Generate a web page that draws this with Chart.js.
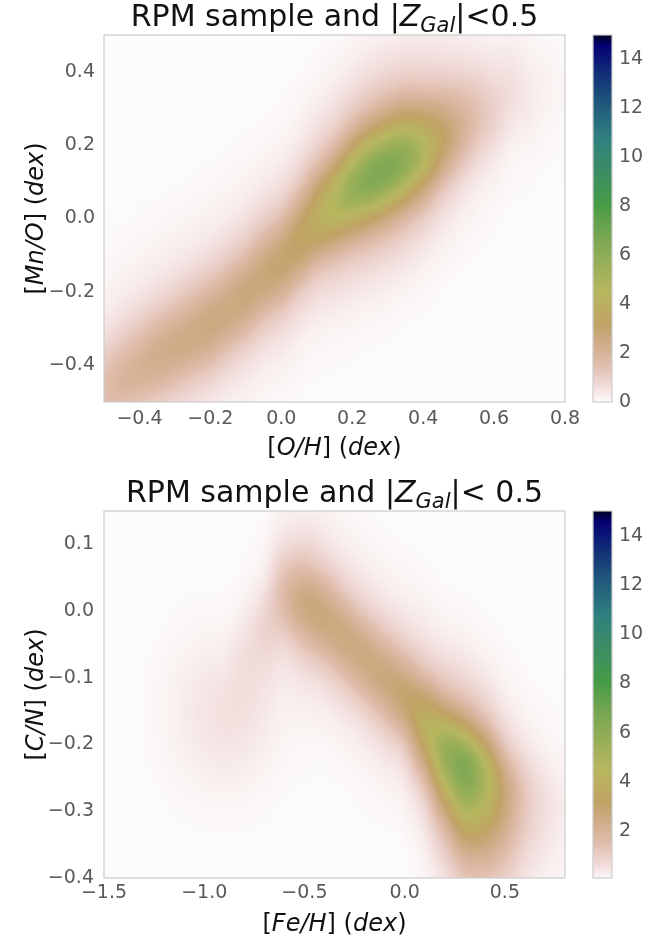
<!DOCTYPE html>
<html>
<head>
<meta charset="utf-8">
<script src="https://cdn.jsdelivr.net/npm/chart.js@4.4.1/dist/chart.umd.min.js"></script>
<style>
  html, body { margin: 0; padding: 0; background: #fff; }
  #wrap { position: relative; width: 666px; height: 936px; overflow: hidden; }
  #wrap canvas { position: absolute; left: 0; top: 0; }
</style>
</head>
<body>
<div id="wrap">
  <canvas id="topMain" width="666" height="936"></canvas>
  <canvas id="topBar" width="666" height="936"></canvas>
  <canvas id="botMain" width="666" height="936"></canvas>
  <canvas id="botBar" width="666" height="936"></canvas>
</div>
<script>
// ---- top panel: [Mn/O] against [O/H] ----
var ohTicks = [-0.4, -0.2, 0, 0.2, 0.4, 0.6, 0.8];
var ohTickLabels = ["\u22120.4", "\u22120.2", "0.0", "0.2", "0.4", "0.6", "0.8"];
var mnoTicks = [-0.4, -0.2, 0, 0.2, 0.4];
var mnoTickLabels = ["\u22120.4", "\u22120.2", "0.0", "0.2", "0.4"];
// density: one column per [O/H] value,
// each listed from [Mn/O] = 0.50 down to -0.50
var ohColumns = [-0.5, -0.45, -0.4, -0.35, -0.3, -0.25, -0.2, -0.15, -0.1, -0.05, 0, 0.05, 0.1, 0.15, 0.2, 0.25, 0.3, 0.35, 0.4, 0.45, 0.5, 0.55, 0.6, 0.65, 0.7, 0.75, 0.8];
var mnoRows = [0.5, 0.45, 0.4, 0.35, 0.3, 0.25, 0.2, 0.15, 0.1, 0.05, 0, -0.05, -0.1, -0.15, -0.2, -0.25, -0.3, -0.35, -0.4, -0.45, -0.5];
var densityMnO = [
  [0,0,0,0,0,0,0,0,0,0,0.02,0.03,0.06,0.11,0.18,0.3,0.51,0.86,1.28,1.57,1.52],
  [0,0,0,0,0,0,0,0,0,0.01,0.03,0.06,0.1,0.18,0.29,0.49,0.84,1.31,1.76,1.89,1.55],
  [0,0,0,0,0,0,0,0,0.01,0.03,0.05,0.09,0.16,0.26,0.44,0.75,1.23,1.77,2.09,1.92,1.35],
  [0,0,0,0,0,0,0,0,0.02,0.04,0.08,0.14,0.24,0.39,0.66,1.12,1.71,2.2,2.25,1.75,1.09],
  [0,0,0,0,0,0,0,0.01,0.03,0.06,0.12,0.2,0.33,0.56,0.95,1.53,2.14,2.4,2.08,1.41,0.81],
  [0,0,0,0,0,0,0.01,0.03,0.05,0.1,0.17,0.28,0.47,0.8,1.34,2.0,2.45,2.38,1.76,1.07,0.6],
  [0,0,0,0,0,0,0.02,0.04,0.08,0.14,0.24,0.4,0.68,1.14,1.8,2.41,2.58,2.12,1.38,0.78,0.44],
  [0,0,0,0,0,0.02,0.04,0.07,0.12,0.22,0.36,0.61,1.03,1.66,2.31,2.6,2.26,1.52,0.88,0.49,0.28],
  [0,0,0,0,0.01,0.03,0.06,0.12,0.21,0.34,0.57,0.97,1.58,2.28,2.69,2.47,1.74,1.03,0.57,0.33,0.18],
  [0,0,0,0.01,0.03,0.06,0.12,0.21,0.35,0.59,1.0,1.64,2.37,2.79,2.56,1.8,1.06,0.59,0.34,0.19,0.1],
  [0,0,0.01,0.03,0.06,0.11,0.2,0.34,0.57,0.96,1.61,2.39,2.94,2.85,2.11,1.28,0.71,0.41,0.23,0.13,0.06],
  [0.01,0.02,0.04,0.08,0.14,0.25,0.42,0.69,1.18,1.93,2.79,3.28,3.01,2.13,1.25,0.7,0.4,0.22,0.12,0.06,0.04],
  [0.02,0.05,0.1,0.19,0.33,0.54,0.91,1.55,2.49,3.47,3.9,3.39,2.29,1.32,0.74,0.42,0.23,0.12,0.06,0.03,0.01],
  [0.06,0.11,0.2,0.36,0.59,0.99,1.68,2.75,3.97,4.68,4.29,3.03,1.79,1.0,0.57,0.32,0.17,0.08,0.05,0.02,0.01],
  [0.12,0.22,0.39,0.64,1.08,1.83,3.05,4.55,5.59,5.41,4.01,2.43,1.36,0.77,0.44,0.24,0.12,0.06,0.03,0.01,0],
  [0.2,0.35,0.6,0.99,1.66,2.82,4.43,5.93,6.36,5.23,3.39,1.92,1.09,0.62,0.34,0.17,0.09,0.04,0.02,0.01,0],
  [0.26,0.47,0.78,1.3,2.2,3.64,5.34,6.42,6.05,4.38,2.62,1.46,0.83,0.47,0.26,0.13,0.06,0.03,0.01,0,0],
  [0.32,0.56,0.92,1.56,2.63,4.15,5.55,5.96,4.9,3.17,1.8,1.02,0.58,0.32,0.16,0.07,0.03,0.01,0,0,0],
  [0.32,0.54,0.9,1.53,2.56,3.82,4.69,4.54,3.36,2.04,1.13,0.64,0.36,0.2,0.1,0.05,0.02,0.01,0,0,0],
  [0.32,0.52,0.88,1.5,2.35,3.15,3.38,2.78,1.8,1.02,0.57,0.33,0.18,0.09,0.04,0.02,0.01,0,0,0,0],
  [0.29,0.48,0.82,1.35,1.94,2.29,2.1,1.48,0.87,0.49,0.28,0.16,0.09,0.04,0.02,0.01,0,0,0,0,0],
  [0.26,0.43,0.73,1.12,1.44,1.47,1.14,0.71,0.4,0.23,0.13,0.07,0.04,0.02,0.01,0,0,0,0,0,0],
  [0.2,0.34,0.56,0.8,0.95,0.87,0.61,0.36,0.2,0.11,0.06,0.04,0.02,0.01,0,0,0,0,0,0,0],
  [0.21,0.35,0.51,0.6,0.55,0.39,0.23,0.13,0.07,0.04,0.02,0.01,0,0,0,0,0,0,0,0,0],
  [0.11,0.19,0.28,0.34,0.33,0.25,0.15,0.08,0.05,0.03,0.01,0,0,0,0,0,0,0,0,0,0],
  [0.08,0.13,0.18,0.2,0.17,0.12,0.07,0.04,0.02,0.01,0,0,0,0,0,0,0,0,0,0,0],
  [0.05,0.07,0.09,0.1,0.09,0.06,0.04,0.02,0.01,0,0,0,0,0,0,0,0,0,0,0,0]
];

// ---- bottom panel: [C/N] against [Fe/H] ----
var fehTicks = [-1.5, -1.0, -0.5, 0, 0.5];
var fehTickLabels = ["\u22121.5", "\u22121.0", "\u22120.5", "0.0", "0.5"];
var cnTicks = [-0.4, -0.3, -0.2, -0.1, 0, 0.1];
var cnTickLabels = ["\u22120.4", "\u22120.3", "\u22120.2", "\u22120.1", "0.0", "0.1"];
// one column per [Fe/H] value, each listed from [C/N] = 0.15 down to -0.40
var fehColumns = [-1.5, -1.4, -1.3, -1.2, -1.1, -1.0, -0.9, -0.8, -0.7, -0.6, -0.5, -0.4, -0.3, -0.2, -0.1, 0, 0.1, 0.2, 0.3, 0.4, 0.5, 0.6, 0.7, 0.8];
var cnRows = [0.15, 0.125, 0.1, 0.075, 0.05, 0.025, 0, -0.025, -0.05, -0.075, -0.1, -0.125, -0.15, -0.175, -0.2, -0.225, -0.25, -0.275, -0.3, -0.325, -0.35, -0.375, -0.4];
var densityCN = [
  [0,0,0,0,0,0,0,0,0,0,0,0,0,0,0,0,0,0,0,0,0,0,0],
  [0,0,0,0,0,0,0,0,0,0,0,0,0,0,0,0,0,0,0,0,0,0,0],
  [0,0,0,0,0,0,0,0.01,0.02,0.03,0.04,0.05,0.05,0.05,0.04,0.03,0.02,0.01,0,0,0,0,0],
  [0,0,0,0,0,0.01,0.03,0.04,0.07,0.1,0.12,0.14,0.15,0.14,0.12,0.1,0.07,0.04,0.03,0.01,0,0,0],
  [0,0,0,0,0.01,0.03,0.05,0.09,0.14,0.19,0.25,0.29,0.3,0.29,0.25,0.19,0.14,0.09,0.05,0.03,0.01,0,0],
  [0,0,0,0.01,0.02,0.04,0.08,0.13,0.21,0.29,0.37,0.43,0.45,0.43,0.37,0.29,0.21,0.13,0.08,0.04,0.02,0.01,0],
  [0,0,0,0.01,0.02,0.05,0.09,0.16,0.25,0.35,0.45,0.52,0.55,0.52,0.45,0.35,0.25,0.16,0.09,0.05,0.02,0.01,0],
  [0.01,0.02,0.03,0.05,0.09,0.16,0.27,0.41,0.55,0.63,0.63,0.61,0.56,0.49,0.41,0.31,0.22,0.13,0.08,0.04,0.02,0.01,0],
  [0.05,0.08,0.13,0.22,0.37,0.59,0.79,0.88,0.81,0.66,0.53,0.45,0.39,0.33,0.27,0.2,0.14,0.08,0.05,0.03,0.01,0,0],
  [0.23,0.37,0.63,1.02,1.45,1.7,1.6,1.24,0.82,0.54,0.38,0.28,0.22,0.17,0.13,0.1,0.06,0.04,0.02,0.01,0,0,0],
  [0.28,0.47,0.78,1.3,1.96,2.5,2.55,2.1,1.45,0.9,0.55,0.35,0.23,0.15,0.09,0.06,0.04,0.02,0.01,0,0,0,0],
  [0.2,0.33,0.54,0.9,1.49,2.17,2.65,2.59,2.04,1.35,0.81,0.49,0.29,0.18,0.1,0.05,0.03,0.02,0.01,0,0,0,0],
  [0.1,0.17,0.28,0.47,0.78,1.3,1.96,2.5,2.55,2.09,1.43,0.87,0.52,0.31,0.19,0.11,0.06,0.03,0.02,0.01,0,0,0],
  [0.05,0.09,0.15,0.25,0.42,0.7,1.18,1.83,2.42,2.59,2.21,1.55,0.96,0.57,0.35,0.21,0.12,0.07,0.04,0.02,0.01,0,0],
  [0.02,0.04,0.08,0.14,0.24,0.4,0.66,1.11,1.76,2.41,2.7,2.41,1.76,1.11,0.66,0.4,0.24,0.14,0.08,0.04,0.02,0.01,0],
  [0.01,0.02,0.04,0.08,0.14,0.24,0.4,0.66,1.11,1.79,2.55,2.99,2.79,2.11,1.37,0.81,0.49,0.29,0.18,0.1,0.05,0.03,0.01],
  [0,0.01,0.02,0.04,0.07,0.14,0.24,0.39,0.65,1.08,1.82,2.81,3.72,3.98,3.54,2.7,1.85,1.18,0.76,0.49,0.32,0.2,0.12],
  [0,0,0.01,0.02,0.03,0.06,0.12,0.24,0.41,0.68,1.12,1.87,3.09,4.51,5.51,5.49,4.77,3.71,2.67,1.83,1.26,0.85,0.58],
  [0,0,0,0.01,0.02,0.04,0.08,0.15,0.27,0.48,0.79,1.3,2.16,3.56,5.21,6.36,6.36,5.71,4.69,3.59,2.6,1.8,1.31],
  [0,0,0,0,0.01,0.02,0.04,0.08,0.15,0.26,0.45,0.74,1.22,2.05,3.24,4.46,4.99,4.78,4.19,3.41,2.61,1.92,1.38],
  [0,0,0,0,0,0,0.01,0.03,0.05,0.1,0.17,0.27,0.46,0.76,1.27,1.97,2.6,2.8,2.63,2.27,1.82,1.37,1.01],
  [0,0,0,0,0,0,0,0.01,0.02,0.03,0.06,0.1,0.17,0.29,0.48,0.78,1.1,1.29,1.25,1.11,0.9,0.68,0.49],
  [0,0,0,0,0,0,0,0,0,0.01,0.02,0.04,0.07,0.11,0.18,0.3,0.45,0.58,0.59,0.54,0.44,0.33,0.23],
  [0,0,0,0,0,0,0,0,0,0,0.01,0.02,0.03,0.05,0.09,0.15,0.22,0.29,0.3,0.27,0.22,0.17,0.12]
];

// colorbar ticks and limits
var barTicksTop = [0, 2, 4, 6, 8, 10, 12, 14];
var barTicksBottom = [2, 4, 6, 8, 10, 12, 14];
var barMax = 15;

// gist_earth segments (position, value); used reversed over 0..barMax
var earthRed = [[0, 0], [0.2824, 0.1882], [0.4588, 0.2714], [0.549, 0.4719], [0.698, 0.7176], [0.7882, 0.7553], [1, 0.9922]];
var earthGreen = [[0, 0], [0.0275, 0], [0.1098, 0.1893], [0.1647, 0.3035], [0.2078, 0.3841], [0.2824, 0.502], [0.5216, 0.6397], [0.698, 0.7171], [0.7882, 0.6392], [0.7922, 0.6413], [0.8, 0.6447], [0.8078, 0.6481], [0.8157, 0.6549], [0.8667, 0.6991], [0.8745, 0.7103], [0.8824, 0.7216], [0.8902, 0.7323], [0.898, 0.743], [0.9412, 0.8275], [0.9569, 0.8635], [0.9647, 0.8816], [0.9961, 0.9733], [1, 0.9843]];
var earthBlue = [[0, 0], [0.0039, 0.1684], [0.0078, 0.2212], [0.0275, 0.4329], [0.0314, 0.4549], [0.2824, 0.5004], [0.4667, 0.2748], [0.5451, 0.3205], [0.7843, 0.3961], [0.8941, 0.6651], [1, 0.9843]];

var FONT = "'DejaVu Sans', sans-serif";
var TICK_COLOR = "#595959";
var FRAME_COLOR = "#cccccc";

function seg(list, t) {
  for (var k = 1; k < list.length; k++) {
    if (t <= list[k][0]) {
      var a = list[k - 1], b = list[k];
      return a[1] + (b[1] - a[1]) * (t - a[0]) / (b[0] - a[0]);
    }
  }
  return list[list.length - 1][1];
}

function cmap(v) {
  var t = 1 - Math.max(0, Math.min(barMax, v)) / barMax;
  return [seg(earthRed, t) * 255, seg(earthGreen, t) * 255, seg(earthBlue, t) * 255];
}

function cubic(p0, p1, p2, p3, t) {
  return p1 + 0.5 * t * (p2 - p0 + t * (2 * p0 - 5 * p1 + 4 * p2 - p3 + t * (3 * (p1 - p2) + p3 - p0)));
}

// smooth lookup in a column grid at fractional indices
function sampleGrid(cols, fi, fj) {
  var nI = cols.length, nJ = cols[0].length;
  var i = Math.floor(fi), j = Math.floor(fj), tx = fi - i, ty = fj - j;
  function get(a, b) {
    a = Math.max(0, Math.min(nI - 1, a));
    b = Math.max(0, Math.min(nJ - 1, b));
    return cols[a][b] || 0;
  }
  var r = [];
  for (var m = -1; m <= 2; m++) r.push(cubic(get(i - 1, j + m), get(i, j + m), get(i + 1, j + m), get(i + 2, j + m), tx));
  return Math.max(0, cubic(r[0], r[1], r[2], r[3], ty));
}

function heatPlugin(cols, xs, ys) {
  return {
    id: "heat",
    beforeDatasetsDraw: function (chart) {
      var a = chart.chartArea, sx = chart.scales.x, sy = chart.scales.y;
      var L = Math.round(a.left), T = Math.round(a.top);
      var W = Math.round(a.right) - L, H = Math.round(a.bottom) - T;
      var off = document.createElement("canvas");
      off.width = W; off.height = H;
      var octx = off.getContext("2d");
      var img = octx.createImageData(W, H);
      var dx = xs[1] - xs[0], dy = ys[0] - ys[1];
      var fis = [];
      for (var px = 0; px < W; px++) fis.push((sx.getValueForPixel(L + px + 0.5) - xs[0]) / dx);
      for (var py = 0; py < H; py++) {
        var fj = (ys[0] - sy.getValueForPixel(T + py + 0.5)) / dy;
        for (var q = 0; q < W; q++) {
          var c = cmap(sampleGrid(cols, fis[q], fj));
          var o = (py * W + q) * 4;
          img.data[o] = c[0]; img.data[o + 1] = c[1]; img.data[o + 2] = c[2]; img.data[o + 3] = 255;
        }
      }
      octx.putImageData(img, 0, 0);
      chart.ctx.drawImage(off, L, T);
    }
  };
}

var barPlugin = {
  id: "bar",
  beforeDatasetsDraw: function (chart) {
    var a = chart.chartArea, sy = chart.scales.y, ctx = chart.ctx;
    for (var py = Math.floor(a.top); py < Math.ceil(a.bottom); py++) {
      var c = cmap(sy.getValueForPixel(py + 0.5));
      ctx.fillStyle = "rgb(" + Math.round(c[0]) + "," + Math.round(c[1]) + "," + Math.round(c[2]) + ")";
      ctx.fillRect(a.left, py, a.right - a.left, 1);
    }
  }
};

var framePlugin = {
  id: "frame",
  afterDraw: function (chart) {
    var a = chart.chartArea, ctx = chart.ctx;
    ctx.save();
    ctx.strokeStyle = FRAME_COLOR;
    ctx.lineWidth = 1.2;
    ctx.strokeRect(a.left, a.top, a.right - a.left, a.bottom - a.top);
    ctx.restore();
  }
};

function drawRich(ctx, parts, x, y, rotate) {
  ctx.save();
  ctx.translate(x, y);
  if (rotate) ctx.rotate(-Math.PI / 2);
  ctx.textBaseline = "alphabetic";
  ctx.textAlign = "left";
  ctx.fillStyle = "#111";
  var total = 0;
  parts.forEach(function (p) { ctx.font = p[1]; p.w = ctx.measureText(p[0]).width; total += p.w; });
  var cx = -total / 2;
  parts.forEach(function (p) { ctx.font = p[1]; ctx.fillText(p[0], cx, p[2] || 0); cx += p.w; });
  ctx.restore();
}

var TITLE = "30px " + FONT, TITLE_IT = "italic 30px " + FONT, SUB_IT = "italic 21px " + FONT;
var LAB = "24px " + FONT, LAB_IT = "italic 24px " + FONT;

function textPlugin(title, xlab, ylab) {
  return {
    id: "texts",
    afterDraw: function (chart) {
      var a = chart.chartArea, ctx = chart.ctx, cx = (a.left + a.right) / 2;
      drawRich(ctx, title, cx, a.top - 9, false);
      drawRich(ctx, xlab, cx, a.bottom + 53, false);
      drawRich(ctx, ylab, 43, (a.top + a.bottom) / 2, true);
    }
  };
}

function axis(min, max, ticks, labels, pad, fixed, horizontal) {
  return {
    type: "linear", min: min, max: max,
    grid: { display: false, drawTicks: false },
    border: { display: false },
    afterBuildTicks: function (s) { s.ticks = ticks.map(function (v) { return { value: v }; }); },
    afterFit: function (s) { if (horizontal) s.height = fixed; else s.width = fixed; },
    ticks: {
      font: { family: FONT, size: 19 }, color: TICK_COLOR, padding: pad,
      autoSkip: false, maxRotation: 0,
      callback: function (v, i) { return labels[i]; }
    }
  };
}

function mainChart(id, cols, xs, ys, xr, yr, xt, xl, yt, yl, top, bottomH, xPad, yPad, texts) {
  return new Chart(document.getElementById(id), {
    type: "scatter",
    data: { datasets: [{ data: [] }] },
    options: {
      responsive: false, animation: false,
      layout: { padding: { top: top, right: 101, left: 0, bottom: 0 } },
      plugins: { legend: { display: false }, tooltip: { enabled: false } },
      scales: {
        x: axis(xr[0], xr[1], xt, xl, xPad, bottomH, true),
        y: axis(yr[0], yr[1], yt, yl, yPad, 104, false)
      }
    },
    plugins: [heatPlugin(cols, xs, ys), framePlugin, texts]
  });
}

function barChart(id, vmin, ticks, top, bottom) {
  var labels = ticks.map(function (v) { return String(v); });
  var y = axis(vmin, barMax, ticks, labels, 7, 54, false);
  y.position = "right";
  return new Chart(document.getElementById(id), {
    type: "scatter",
    data: { datasets: [{ data: [] }] },
    options: {
      responsive: false, animation: false,
      layout: { padding: { top: top, right: 0, left: 593, bottom: bottom } },
      plugins: { legend: { display: false }, tooltip: { enabled: false } },
      scales: { x: { display: false, min: 0, max: 1 }, y: y }
    },
    plugins: [barPlugin, framePlugin]
  });
}

mainChart("topMain", densityMnO, ohColumns, mnoRows, [-0.5, 0.8], [-0.5, 0.5],
  ohTicks, ohTickLabels, mnoTicks, mnoTickLabels, 35, 534, 6, 9,
  textPlugin(
    [["RPM sample and |", TITLE], ["Z", TITLE_IT], ["Gal", SUB_IT, 6], ["|<0.5", TITLE]],
    [["[", LAB], ["O/H", LAB_IT], ["] (", LAB], ["dex", LAB_IT], [")", LAB]],
    [["[", LAB], ["Mn/O", LAB_IT], ["] (", LAB], ["dex", LAB_IT], [")", LAB]]
  ));
barChart("topBar", 0, barTicksTop, 35, 534);

mainChart("botMain", densityCN, fehColumns, cnRows, [-1.5, 0.8], [-0.4, 0.15],
  fehTicks, fehTickLabels, cnTicks, cnTickLabels, 511, 58, 4, 10,
  textPlugin(
    [["RPM sample and |", TITLE], ["Z", TITLE_IT], ["Gal", SUB_IT, 6], ["|< 0.5", TITLE]],
    [["[", LAB], ["Fe/H", LAB_IT], ["] (", LAB], ["dex", LAB_IT], [")", LAB]],
    [["[", LAB], ["C/N", LAB_IT], ["] (", LAB], ["dex", LAB_IT], [")", LAB]]
  ));
barChart("botBar", 0.1, barTicksBottom, 511, 58);
</script>
</body>
</html>
